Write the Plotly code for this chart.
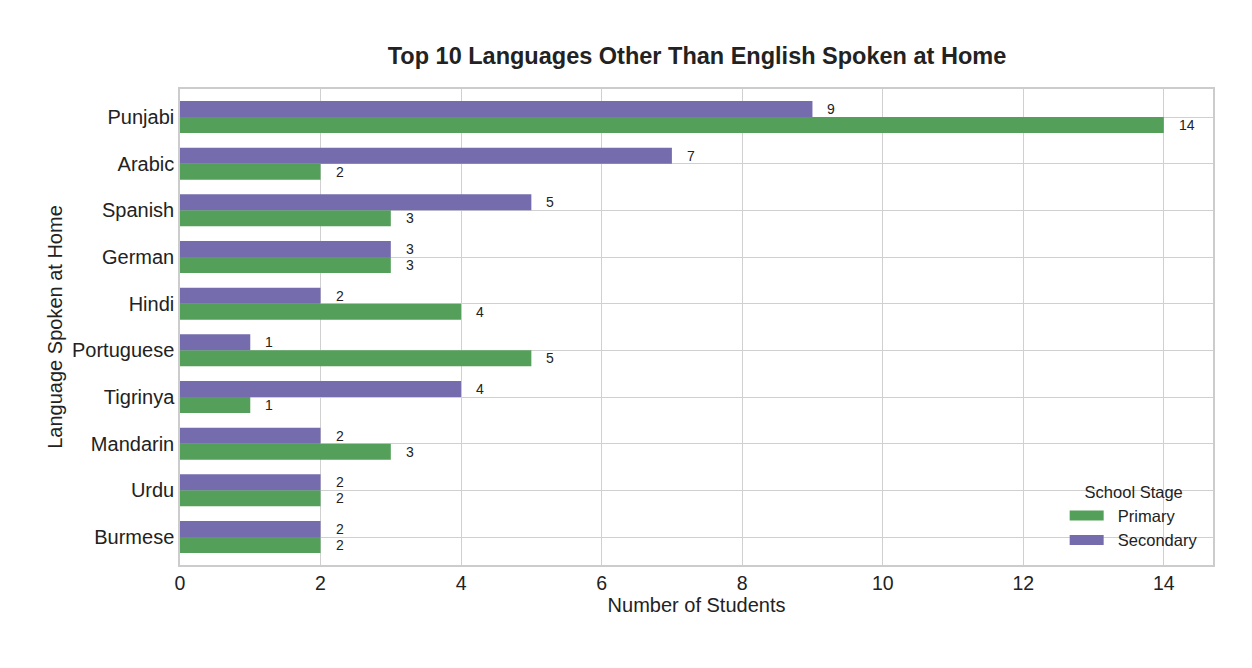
import plotly.graph_objects as go

languages = ["Punjabi", "Arabic", "Spanish", "German", "Hindi", "Portuguese",
             "Tigrinya", "Mandarin", "Urdu", "Burmese"]
primary = [14, 2, 3, 3, 4, 5, 1, 3, 2, 2]
secondary = [9, 7, 5, 3, 2, 1, 4, 2, 2, 2]
x_ticks = [0, 2, 4, 6, 8, 10, 12, 14]

GREEN = "#54a05a"
PURPLE = "#756cae"

fig = go.Figure()
fig.add_trace(go.Bar(y=languages, x=primary, name="Primary", orientation="h",
                     marker=dict(color=GREEN, line=dict(width=0)), offsetgroup="p",
                     showlegend=False))
fig.add_trace(go.Bar(y=languages, x=secondary, name="Secondary", orientation="h",
                     marker=dict(color=PURPLE, line=dict(width=0)), offsetgroup="s",
                     showlegend=False))
# legend entries (wide rectangular swatches)
for name, col in [("Primary", GREEN), ("Secondary", PURPLE)]:
    fig.add_trace(go.Scatter(x=[None], y=[None], mode="lines",
                             name="\u00a0\u00a0" + name,
                             line=dict(color=col, width=13), showlegend=True))

annotations = []
bw = 0.343
for lang, p, s in zip(languages, primary, secondary):
    i = len(languages) - 1 - languages.index(lang)
    annotations.append(dict(x=p, y=i - bw / 2, xref="x", yref="y", text=str(p),
                            showarrow=False, xanchor="left", xshift=13,
                            font=dict(size=14, color="#222222")))
    annotations.append(dict(x=s, y=i + bw / 2, xref="x", yref="y", text=str(s),
                            showarrow=False, xanchor="left", xshift=13,
                            font=dict(size=14, color="#222222")))

fig.update_layout(
    width=1252, height=668,
    paper_bgcolor="white", plot_bgcolor="white",
    font=dict(family="Liberation Sans, Arial, sans-serif", color="#222222"),
    margin=dict(l=172, r=47, t=81, b=111),
    title=dict(text="<b>Top 10 Languages Other Than English Spoken at Home</b>",
               x=0.5503, xanchor="center", y=0.928, yanchor="middle",
               font=dict(size=23.5, color="#222222")),
    barmode="group", bargap=0.314, bargroupgap=0,
    xaxis=dict(range=[0, 14.7], tickvals=x_ticks, ticktext=[str(t) for t in x_ticks],
               showgrid=True, gridcolor="#d0d0d0", gridwidth=1.3,
               showline=True, linecolor="#cccccc", linewidth=1.5, mirror=True,
               zeroline=False, ticks="", tickfont=dict(size=19.5),
               title=dict(text="Number of Students", font=dict(size=20), standoff=4)),
    yaxis=dict(type="category", categoryorder="array",
               categoryarray=languages[::-1], range=[-0.6, 9.6],
               showgrid=True, gridcolor="#d0d0d0", gridwidth=1.3,
               showline=True, linecolor="#cccccc", linewidth=1.5, mirror=True,
               zeroline=False, ticks="", tickfont=dict(size=20),
               title=dict(text="Language Spoken at Home", font=dict(size=20), standoff=4)),
    legend=dict(title=dict(text="School Stage", side="top center", font=dict(size=16.5)),
                x=0.99, xanchor="right", y=0.015, yanchor="bottom",
                font=dict(size=16.5), bgcolor="rgba(0,0,0,0)", traceorder="normal",
                itemwidth=34),
    annotations=annotations,
)

fig.write_html("out.html")
